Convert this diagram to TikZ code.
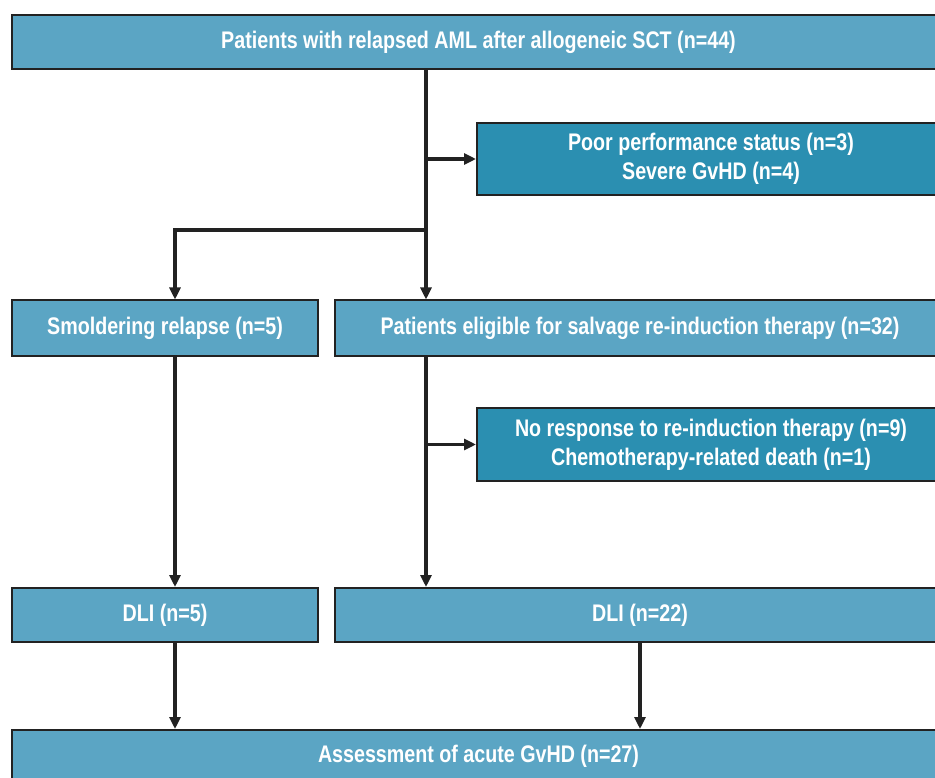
\documentclass[tikz,border=0pt]{standalone}
\usepackage{fontspec}
\setmainfont[FakeStretch=0.82]{Liberation Sans}
\usepackage{tikz}
\usetikzlibrary{arrows.meta}
\definecolor{lightbox}{HTML}{5BA5C4}
\definecolor{darkbox}{HTML}{2B8FB1}
\definecolor{edge}{HTML}{222222}

\begin{document}
\begin{tikzpicture}[
                    x = 1pt,
                    y = -1pt,
                    box/.style = {draw=edge, line width=2pt, fill=lightbox,
                                  text=white, align=center, inner sep=0pt,
                                  font=\bfseries\fontsize{24}{29}\selectfont},
                    darkbox/.style = {box, fill=darkbox},
                    line/.style = {edge, line width=3.2pt},
                    arr/.style = {line, -{Triangle[length=12pt,width=11pt]}}]

\clip (0,0) rectangle (935,778);

%first row
\node [box, minimum width=933, minimum height=54] (allpat) at (478.5,42) {Patients with relapsed AML after allogeneic SCT (n=44)};
%excluded
\node [darkbox, minimum width=468, minimum height=72] (excl) at (711,159) {Poor performance status (n=3)\\Severe GvHD (n=4)};

%second row
\node [box, minimum width=306, minimum height=55] (smold) at (165,328) {Smoldering relapse (n=5)};
\node [box, minimum width=610, minimum height=55] (elig) at (640,328) {Patients eligible for salvage re-induction therapy (n=32)};
%no response
\node [darkbox, minimum width=468, minimum height=73] (nores) at (711,444.5) {No response to re-induction therapy (n=9)\\Chemotherapy-related death (n=1)};

%DLI
\node [box, minimum width=306, minimum height=54] (dlia) at (165,615) {DLI (n=5)};
\node [box, minimum width=610, minimum height=54] (dlib) at (640,615) {DLI (n=22)};

%last row
\node [box, minimum width=933, minimum height=52] (gvhd) at (478.5,756) {Assessment of acute GvHD (n=27)};

% lines
\coordinate (trunk) at (426,230);
\coordinate (split) at (175,230);

\draw [arr] (allpat.south -| trunk) -- (elig.north -| trunk);
\draw [arr] (excl.west -| trunk) -- (excl.west);
\draw [arr] (trunk) -- (split) -- (smold.north -| split);

\draw [arr] (elig.south -| trunk) -- (dlib.north -| trunk);
\draw [arr] (nores.west -| trunk) -- (nores.west);

\draw [arr] (smold.south -| split) -- (dlia.north -| split);
\draw [arr] (dlia.south -| split) -- (gvhd.north -| split);
\draw [arr] (dlib.south) -- (gvhd.north -| dlib.south);

\end{tikzpicture}
\end{document}
